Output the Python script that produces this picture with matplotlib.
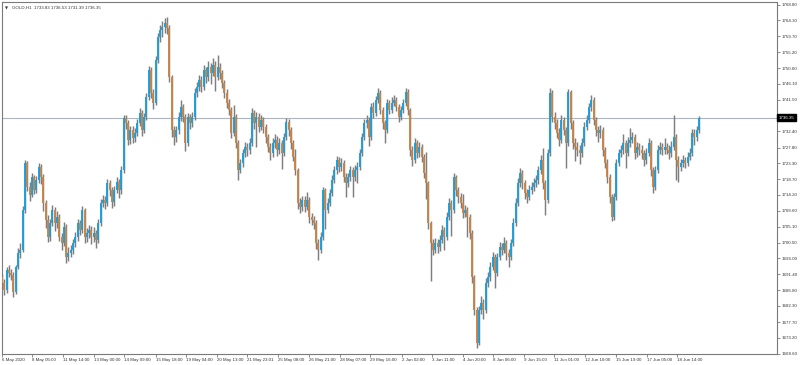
import matplotlib
matplotlib.use("Agg")
import matplotlib.pyplot as plt
import numpy as np

# ---- data (GOLD, H1; each entry ~ 2-3 hourly bars) ----
first_open = 1690.5
close = [
1688.9, 1686.9, 1692.6, 1691.8, 1691.2, 1686.3, 1693.5, 1697.5, 1698.4, 1709.9,
1723.4, 1716.5, 1714.2, 1719.3, 1715.6, 1718.5, 1722.2, 1719.3, 1711.9, 1707.0,
1702.1, 1706.1, 1709.9, 1706.1, 1707.9, 1702.1, 1700.4, 1705.0, 1696.4, 1697.5,
1698.4, 1700.4, 1702.1, 1706.1, 1704.1, 1709.9, 1702.1, 1703.3, 1704.1, 1702.1,
1703.3, 1701.3, 1706.1, 1711.9, 1712.7, 1711.9, 1717.6, 1715.6, 1712.2, 1715.6,
1717.9, 1715.6, 1721.3, 1736.3, 1734.8, 1730.0, 1732.8, 1730.5, 1732.0, 1734.8,
1737.7, 1732.8, 1736.6, 1742.3, 1750.1, 1743.5, 1740.6, 1752.9, 1759.5, 1761.5,
1762.4, 1763.6, 1762.1, 1748.0, 1732.8, 1730.8, 1732.8, 1736.6, 1739.4, 1736.6,
1729.1, 1736.6, 1734.8, 1736.6, 1743.5, 1745.2, 1747.2, 1745.2, 1750.1, 1748.0,
1750.9, 1749.2, 1751.5, 1748.0, 1750.9, 1749.2, 1746.3, 1743.5, 1740.6, 1738.6,
1732.0, 1736.6, 1729.1, 1721.3, 1723.4, 1726.2, 1727.9, 1727.1, 1729.1, 1737.7,
1734.8, 1736.6, 1733.7, 1735.7, 1733.7, 1730.8, 1727.9, 1726.2, 1729.1, 1730.0,
1727.1, 1729.1, 1726.2, 1730.8, 1735.1, 1732.8, 1729.1, 1725.1, 1721.3, 1711.9,
1710.7, 1712.7, 1710.7, 1712.7, 1707.9, 1707.0, 1706.1, 1700.4, 1698.4, 1702.1,
1715.6, 1709.9, 1711.9, 1714.7, 1718.5, 1721.3, 1724.2, 1722.2, 1723.4, 1719.3,
1717.6, 1719.3, 1721.3, 1719.3, 1721.3, 1722.2, 1726.2, 1730.8, 1734.8, 1735.7,
1730.8, 1739.4, 1737.7, 1741.4, 1743.5, 1738.6, 1734.8, 1732.8, 1740.6, 1738.6,
1740.6, 1741.4, 1739.4, 1736.6, 1738.6, 1740.6, 1743.7, 1738.6, 1727.1, 1724.2,
1729.1, 1726.2, 1727.9, 1725.1, 1720.5, 1717.6, 1706.1, 1700.4, 1698.4, 1700.4,
1699.2, 1701.3, 1704.1, 1702.1, 1707.9, 1711.9, 1709.9, 1719.3, 1715.6, 1713.6,
1711.9, 1709.0, 1709.9, 1707.9, 1703.3, 1690.6, 1681.2, 1671.7, 1681.2, 1683.2,
1681.2, 1688.9, 1690.6, 1693.5, 1696.4, 1691.8, 1696.4, 1699.2, 1698.4, 1700.4,
1697.5, 1696.4, 1700.4, 1706.1, 1711.9, 1717.6, 1720.5, 1717.6, 1714.7, 1713.6,
1715.6, 1716.5, 1717.6, 1718.5, 1721.3, 1724.2, 1717.6, 1712.7, 1726.2, 1743.5,
1736.6, 1734.8, 1732.0, 1730.0, 1735.7, 1732.8, 1729.1, 1743.7, 1734.8, 1729.1,
1727.9, 1727.1, 1726.2, 1729.1, 1733.7, 1735.7, 1739.4, 1741.4, 1735.7, 1732.8,
1732.0, 1732.8, 1727.1, 1723.4, 1719.3, 1713.6, 1707.9, 1713.6, 1723.4, 1726.2,
1727.1, 1729.1, 1726.2, 1729.1, 1730.0, 1730.8, 1726.2, 1727.9, 1727.1, 1726.2,
1724.2, 1726.2, 1729.1, 1721.3, 1716.5, 1721.3, 1727.1, 1727.9, 1727.1, 1727.9,
1727.1, 1726.2, 1727.9, 1730.8, 1724.2, 1722.2, 1723.4, 1724.2, 1723.4, 1725.1,
1726.2, 1732.0, 1730.8, 1732.8, 1736.35]

high = [
1691.6, 1690.0, 1693.4, 1694.0, 1692.9, 1692.0, 1694.2, 1699.0, 1700.3, 1711.0,
1724.2, 1723.9, 1717.8, 1720.4, 1720.0, 1719.6, 1723.4, 1723.0, 1720.1, 1712.8,
1708.3, 1707.4, 1711.3, 1710.8, 1709.5, 1708.6, 1703.2, 1706.3, 1705.7, 1699.1,
1699.8, 1701.6, 1703.5, 1707.2, 1707.0, 1711.0, 1710.5, 1704.8, 1705.6, 1705.2,
1704.9, 1704.2, 1707.3, 1713.0, 1714.3, 1714.0, 1718.9, 1718.6, 1716.5, 1716.8,
1719.2, 1718.8, 1722.4, 1737.2, 1737.0, 1735.6, 1734.0, 1733.9, 1733.4, 1736.0,
1739.0, 1738.5, 1737.8, 1743.4, 1751.2, 1750.8, 1744.6, 1754.0, 1760.8, 1763.0,
1764.2, 1765.0, 1765.3, 1763.0, 1748.6, 1734.0, 1734.1, 1737.9, 1741.4, 1740.4,
1737.4, 1737.8, 1737.5, 1738.0, 1744.8, 1746.6, 1748.6, 1748.3, 1751.4, 1751.0,
1752.6, 1752.0, 1753.4, 1752.6, 1754.3, 1752.0, 1750.0, 1747.2, 1744.5, 1741.7,
1739.3, 1740.0, 1737.5, 1730.0, 1724.6, 1727.4, 1729.5, 1729.2, 1730.4, 1739.2,
1738.6, 1737.9, 1737.6, 1737.0, 1736.6, 1734.6, 1731.7, 1729.0, 1730.4, 1731.6,
1731.0, 1730.6, 1730.0, 1732.0, 1736.2, 1735.9, 1733.6, 1730.0, 1727.5, 1722.0,
1713.4, 1714.0, 1713.8, 1715.0, 1713.5, 1709.0, 1708.0, 1707.0, 1701.5, 1703.4,
1716.5, 1716.3, 1713.2, 1716.0, 1719.8, 1722.5, 1725.5, 1725.2, 1724.8, 1724.2,
1720.4, 1720.6, 1722.6, 1722.3, 1722.8, 1723.6, 1727.5, 1732.0, 1736.0, 1737.2,
1736.5, 1740.6, 1740.8, 1742.6, 1744.8, 1744.2, 1739.5, 1735.8, 1741.8, 1741.5,
1742.3, 1743.0, 1742.4, 1740.3, 1739.8, 1741.8, 1745.0, 1744.5, 1739.2, 1728.3,
1730.5, 1730.0, 1729.4, 1728.9, 1726.0, 1726.5, 1718.3, 1706.8, 1701.6, 1701.8,
1701.5, 1702.8, 1705.5, 1705.0, 1709.3, 1713.2, 1712.8, 1720.6, 1720.0, 1716.5,
1714.6, 1714.5, 1711.2, 1710.8, 1708.6, 1704.0, 1691.3, 1682.0, 1682.4, 1685.2,
1684.2, 1690.2, 1692.0, 1694.8, 1697.8, 1697.2, 1697.6, 1700.6, 1700.3, 1702.0,
1701.3, 1698.6, 1701.6, 1707.5, 1713.3, 1719.0, 1721.8, 1721.4, 1718.5, 1715.8,
1716.9, 1717.8, 1719.0, 1719.9, 1722.6, 1725.6, 1727.8, 1718.4, 1727.4, 1744.8,
1744.2, 1738.0, 1736.0, 1733.4, 1737.0, 1736.6, 1733.8, 1744.6, 1744.3, 1735.6,
1730.5, 1729.4, 1728.6, 1730.4, 1735.0, 1737.1, 1740.6, 1743.0, 1742.3, 1736.6,
1734.0, 1734.4, 1733.6, 1728.0, 1724.4, 1720.2, 1714.5, 1714.8, 1724.6, 1727.4,
1728.4, 1731.6, 1730.0, 1730.8, 1733.5, 1732.3, 1731.6, 1729.3, 1729.0, 1728.4,
1727.2, 1727.6, 1730.6, 1730.0, 1722.2, 1722.6, 1728.4, 1729.5, 1729.2, 1730.6,
1729.2, 1728.4, 1729.6, 1737.0, 1731.6, 1725.3, 1724.6, 1725.6, 1725.2, 1726.5,
1727.6, 1733.2, 1733.0, 1734.0, 1736.9]

low = [
1687.5, 1685.4, 1686.0, 1690.6, 1689.8, 1685.0, 1685.7, 1692.8, 1696.2, 1697.8,
1709.0, 1715.2, 1712.3, 1713.5, 1714.4, 1714.8, 1717.6, 1717.4, 1709.6, 1704.8,
1700.6, 1701.0, 1705.2, 1703.9, 1704.8, 1700.9, 1698.5, 1699.6, 1694.6, 1695.1,
1696.3, 1697.2, 1699.3, 1701.0, 1702.6, 1703.2, 1700.3, 1700.8, 1701.9, 1700.2,
1700.7, 1699.0, 1700.4, 1705.3, 1710.6, 1710.2, 1711.0, 1714.0, 1710.5, 1711.0,
1714.6, 1713.2, 1714.4, 1720.5, 1733.1, 1728.4, 1728.9, 1729.0, 1729.4, 1731.0,
1733.9, 1731.2, 1731.9, 1735.7, 1741.5, 1742.0, 1738.8, 1739.9, 1752.0, 1758.2,
1759.6, 1760.8, 1760.5, 1746.5, 1730.9, 1728.6, 1729.4, 1731.8, 1735.5, 1735.0,
1726.8, 1728.3, 1733.0, 1733.6, 1735.6, 1742.2, 1744.0, 1743.6, 1744.3, 1746.3,
1747.0, 1746.0, 1748.3, 1744.0, 1747.2, 1747.6, 1744.8, 1742.0, 1739.0, 1737.0,
1730.4, 1731.2, 1727.6, 1718.4, 1720.5, 1722.3, 1725.0, 1725.5, 1726.0, 1728.3,
1733.2, 1728.0, 1732.2, 1732.8, 1732.0, 1729.2, 1726.4, 1724.3, 1725.2, 1727.8,
1725.5, 1726.0, 1721.5, 1725.3, 1730.0, 1731.2, 1727.5, 1723.8, 1719.8, 1710.2,
1709.0, 1709.6, 1709.2, 1709.8, 1706.2, 1705.5, 1704.4, 1698.6, 1695.5, 1697.6,
1701.3, 1704.5, 1708.9, 1710.9, 1713.8, 1717.5, 1720.3, 1720.8, 1721.0, 1717.8,
1713.5, 1716.5, 1718.2, 1713.5, 1718.2, 1717.5, 1721.3, 1725.3, 1729.9, 1733.5,
1728.2, 1730.0, 1736.4, 1736.9, 1740.6, 1737.3, 1733.0, 1729.0, 1732.0, 1737.3,
1737.8, 1739.6, 1738.2, 1735.2, 1735.6, 1737.6, 1739.8, 1737.2, 1725.5, 1722.4,
1723.3, 1724.8, 1725.0, 1723.6, 1719.0, 1713.0, 1704.5, 1689.5, 1696.8, 1697.4,
1697.6, 1698.2, 1700.4, 1698.5, 1701.3, 1707.0, 1702.5, 1709.0, 1714.0, 1712.0,
1710.3, 1707.6, 1707.8, 1702.0, 1701.5, 1689.0, 1679.6, 1670.2, 1671.0, 1680.0,
1678.5, 1680.4, 1687.8, 1689.6, 1692.5, 1687.5, 1690.9, 1695.5, 1696.8, 1697.5,
1695.6, 1693.6, 1695.6, 1699.6, 1705.2, 1711.0, 1716.5, 1715.9, 1713.0, 1711.8,
1712.6, 1714.4, 1715.4, 1716.4, 1717.4, 1720.3, 1716.0, 1708.5, 1711.8, 1725.4,
1735.0, 1733.2, 1730.4, 1728.3, 1729.2, 1731.3, 1722.0, 1728.3, 1733.2, 1727.4,
1723.8, 1725.4, 1723.0, 1725.2, 1728.2, 1732.7, 1734.8, 1738.3, 1734.2, 1731.0,
1729.5, 1730.6, 1725.5, 1721.8, 1717.6, 1711.8, 1706.6, 1707.0, 1712.8, 1722.4,
1725.0, 1726.0, 1722.0, 1725.3, 1728.0, 1729.0, 1724.6, 1725.2, 1725.6, 1724.6,
1722.6, 1723.2, 1725.3, 1719.5, 1714.8, 1715.6, 1720.4, 1726.0, 1725.6, 1726.0,
1725.8, 1724.6, 1725.2, 1727.0, 1718.5, 1718.0, 1721.0, 1722.3, 1722.0, 1722.5,
1724.2, 1725.4, 1728.6, 1729.6, 1732.1]

price_ticks = [1768.80, 1764.30, 1759.70, 1755.20, 1750.60, 1746.10, 1741.50,
               1737.00, 1732.40, 1727.80, 1723.30, 1718.70, 1714.20, 1709.60,
               1705.10, 1700.50, 1696.00, 1691.40, 1686.80, 1682.30, 1677.70,
               1673.20, 1668.60]
time_labels = ["6 May 2020", "8 May 05:00", "11 May 14:00", "13 May 00:00",
               "14 May 09:00", "15 May 18:00", "19 May 04:00", "20 May 13:00",
               "21 May 23:01", "25 May 08:00", "26 May 21:00", "28 May 07:00",
               "29 May 16:00", "2 Jun 02:00", "3 Jun 11:00", "4 Jun 20:00",
               "8 Jun 06:00", "9 Jun 15:00", "11 Jun 01:00", "12 Jun 10:00",
               "15 Jun 19:00", "17 Jun 05:00", "18 Jun 14:00"]
time_label_bar = [0, 13.1, 26.6, 40.1, 53.2, 67.2, 80.3, 93.8, 106.9, 120.4,
                  133.9, 147.4, 160.5, 174.5, 187.6, 201.1, 214.2, 227.7, 240.8,
                  254.3, 267.8, 281.3, 294.4]
header = "GOLD,H1  1733.83 1736.53 1731.39 1736.35"
last_price = 1736.35

# ---- figure ----
FONT = ["Liberation Sans", "DejaVu Sans"]
plt.rcParams['font.family'] = FONT
FS = 3.2
TXT = "#333333"

W, H = 800, 365
fig = plt.figure(figsize=(W / 100, H / 100), dpi=100)
fig.patch.set_facecolor("white")
ax = fig.add_axes([1.5 / W, (H - 353.7) / H, 775.2 / W, 352.0 / H])
ax.set_facecolor("white")

n = len(close)
opens = np.array([first_open] + close[:-1])
closes = np.array(close)
highs = np.array(high)
lows = np.array(low)
idx = np.arange(n)
up = closes >= opens

ax.vlines(idx, lows, highs, colors="#7e7e7e", linewidth=1.05, zorder=2)
ax.vlines(idx[up], opens[up], closes[up], colors="#179fdc", linewidth=1.35, zorder=3)
ax.vlines(idx[~up], opens[~up], closes[~up], colors="#c98345", linewidth=1.35, zorder=3)

ax.axhline(last_price, color="#a9b6c6", linewidth=0.8, zorder=1)

ax.set_xlim(-0.22, 337.9)
ax.set_ylim(1668.60, 1769.66)

for s in ax.spines.values():
    s.set_color("#7a7a7a")
    s.set_linewidth(0.8)

ax.yaxis.tick_right()
ax.set_yticks(price_ticks)
ax.set_yticklabels([f"{v:.2f}" for v in price_ticks])
ax.tick_params(axis="y", direction="out", length=2.0, width=0.6, colors="#7a7a7a",
               labelsize=FS, labelcolor=TXT, pad=1.2)
ax.set_xticks(time_label_bar)
ax.set_xticklabels(time_labels, ha="left")
ax.tick_params(axis="x", direction="out", length=2.0, width=0.6, colors="#7a7a7a",
               labelsize=FS, labelcolor=TXT, pad=1.2)

# current price marker on the axis (drawn over the hidden 1737.00 label)
ax.annotate(f"{last_price:.2f}", xy=(1.0, last_price), xycoords=("axes fraction", "data"),
            xytext=(1.5, 0), textcoords="offset points", ha="left", va="center",
            fontsize=FS, color="white", zorder=10,
            bbox=dict(boxstyle="square,pad=0.3", fc="black", ec="black"),
            annotation_clip=False)

# header
ax.text(0.004, 0.987, "\u25BC", transform=ax.transAxes, fontsize=2.8, color=TXT,
        ha="left", va="top", family=["DejaVu Sans"])
ax.text(0.013, 0.989, header, transform=ax.transAxes, fontsize=FS, color=TXT,
        ha="left", va="top")

fig.savefig("out.png", dpi=100, facecolor="white")
